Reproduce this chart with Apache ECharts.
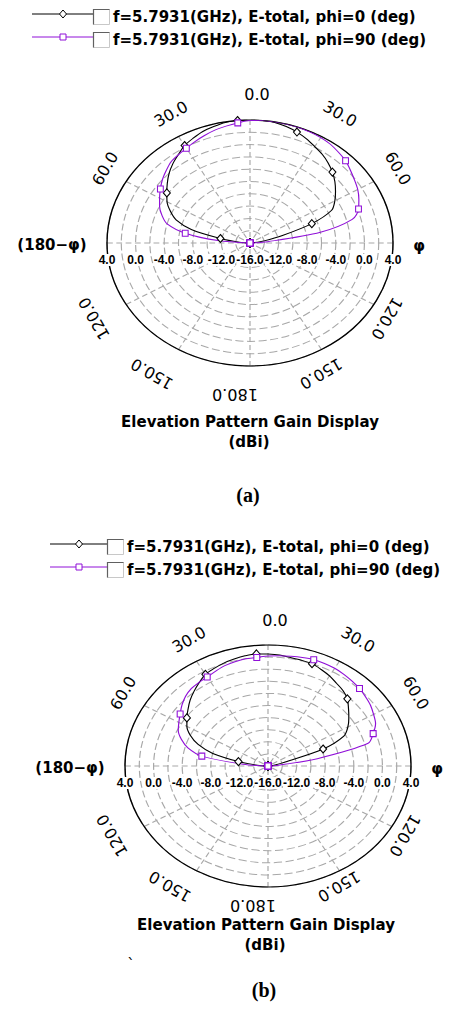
<!DOCTYPE html>
<html><head><meta charset="utf-8">
<script src="https://cdn.jsdelivr.net/npm/echarts@6/dist/echarts.min.js"></script>
<style>
html,body{margin:0;padding:0;background:#fff;width:453px;height:1010px;overflow:hidden}
.polar{position:absolute;z-index:1}
#overlay{position:absolute;left:0;top:0;width:453px;height:1010px;z-index:2;pointer-events:none}
</style></head><body>
<div id="pa" class="polar"></div>
<div id="pb" class="polar"></div>
<div id="overlay"></div>
<script>
// ---------------- data ----------------
const seriesNames = ['f=5.7931(GHz), E-total, phi=0 (deg)', 'f=5.7931(GHz), E-total, phi=90 (deg)'];
const angleDeg = [-180,-175,-170,-165,-160,-155,-150,-145,-140,-135,-130,-125,-120,-115,-110,-105,-100,-95,
  -90,-85,-80,-75,-70,-65,-60,-55,-50,-45,-40,-35,-30,-25,-20,-15,-10,-5,0,
  5,10,15,20,25,30,35,40,45,50,55,60,65,70,75,80,85,90,
  95,100,105,110,115,120,125,130,135,140,145,150,155,160,165,170,175,180];
// (a) gain in dBi
const gainA_phi0 = [-16,-16,-16,-16,-16,-16,-16,-16,-16,-16,-16,-16,-16,-16,-16,-16,-16,-16,
  -16,-14.5,-11.8,-7.5,-5.0,-3.7,-2.6,-1.8,-0.9,0.0,0.8,1.5,2.3,2.8,3.3,3.6,3.9,4.0,4.0,
  4.0,3.9,3.6,3.2,2.7,2.1,1.6,1.0,0.3,-0.5,-1.4,-2.3,-3.4,-6.8,-11.3,-14.0,-15.5,-16,
  -16,-16,-16,-16,-16,-16,-16,-16,-16,-16,-16,-16,-16,-16,-16,-16,-16,-16];
const gainA_phi90 = [-16,-16,-16,-16,-16,-16,-16,-16,-16,-16,-16,-16,-16,-16,-16,-16,-16,-16,
  -16,-11.5,-6.8,-4.0,-2.9,-2.05,-1.4,-0.7,0.0,0.6,1.2,1.5,1.8,2.2,2.6,3.0,3.3,3.6,3.9,
  4.0,4.0,4.0,4.0,3.9,3.8,3.6,3.25,2.9,2.35,1.85,1.4,0.8,0.15,-1.2,-6.0,-13.5,-16,
  -16,-16,-16,-16,-16,-16,-16,-16,-16,-16,-16,-16,-16,-16,-16,-16,-16,-16];
// (b) gain in dBi
const gainB_phi0 = [-16,-16,-16,-16,-16,-16,-16,-16,-16,-16,-16,-16,-16,-16,-16,-16,-16,-16,
  -16,-14.5,-11.8,-8.0,-5.6,-4.0,-2.9,-2.15,-1.4,-0.6,0.1,0.8,1.5,1.8,2.1,2.3,2.5,2.6,2.5,
  2.4,2.2,2.1,2.0,1.6,1.2,0.7,0.3,-0.3,-1.3,-2.2,-3.1,-4.3,-7.8,-13.5,-15.0,-15.7,-16,
  -16,-16,-16,-16,-16,-16,-16,-16,-16,-16,-16,-16,-16,-16,-16,-16,-16,-16];
const gainB_phi90 = [-16,-16,-16,-16,-16,-16,-16,-16,-16,-16,-16,-16,-16,-16,-16,-16,-16,-16,
  -16,-12.5,-6.6,-4.4,-3.1,-2.15,-1.6,-1.0,-0.3,0.3,0.7,0.85,1.0,1.3,1.65,1.85,2.0,2.0,2.2,
  2.3,2.4,2.55,2.7,2.7,2.65,2.5,2.3,2.1,1.8,1.5,1.05,0.6,-0.35,-1.5,-9.0,-14.5,-16,
  -16,-16,-16,-16,-16,-16,-16,-16,-16,-16,-16,-16,-16,-16,-16,-16,-16,-16];
const radialTicks = [4, 0, -4, -8, -12];   // labels on each side, centre label below
const radialCenter = -16;
const radialMax = 4;
const angleTicks = [0, 30, 60, 120, 150, 180];

// ---------------- layout / style ----------------
const COLORS = ['#000000', '#9010d8'];
const SYMBOLS = ['diamond', 'rect'];
const FONT = '"DejaVu Sans", Verdana, sans-serif';
const panels = [
  {id:'pa', cx:250, cy:243, rx:143, ry:123, gains:[gainA_phi0, gainA_phi90],
   lg:{x0:32, mx:63, x1:93, ys:[14,37]}, bTop:149, bBot:151, titleX:250, titleY:422, capY:495, cap:'(a)'},
  {id:'pb', cx:268, cy:766, rx:143, ry:121, gains:[gainB_phi0, gainB_phi90],
   lg:{x0:50, mx:79, x1:107, ys:[544,567]}, bTop:146, bBot:139, titleX:266, titleY:925, capY:990, cap:'(b)'}
];

// ---------------- polar charts (stretched horizontally into an ellipse) ----------------
panels.forEach(p => {
  const S = 2 * p.ry + 20;
  const el = document.getElementById(p.id);
  el.style.width = S + 'px'; el.style.height = S + 'px';
  el.style.left = (p.cx - S / 2) + 'px'; el.style.top = (p.cy - S / 2) + 'px';
  el.style.transformOrigin = '50% 50%';
  el.style.transform = 'scaleX(' + (p.rx / p.ry) + ')';
  const chart = echarts.init(el, null, {renderer: 'svg', width: S, height: S});
  chart.setOption({
    animation: false,
    polar: {center: ['50%', '50%'], radius: p.ry},
    angleAxis: {
      type: 'value', min: -180, max: 180, interval: 30, startAngle: 270, clockwise: true,
      axisLine: {show: true, lineStyle: {color: '#000', width: 1.2}},
      axisTick: {show: false}, axisLabel: {show: false},
      splitLine: {show: true, lineStyle: {color: '#a8a8a8', width: 1, type: [5, 3]}}
    },
    radiusAxis: {
      type: 'value', min: radialCenter, max: radialMax, interval: 2,
      axisLine: {show: false}, axisTick: {show: false}, axisLabel: {show: false},
      splitLine: {show: true, lineStyle: {color: '#a8a8a8', width: 1, type: [7, 3]}}
    },
    series: p.gains.map((g, k) => ({
      type: 'line', coordinateSystem: 'polar', name: seriesNames[k],
      smooth: 0.3, symbol: SYMBOLS[k], symbolSize: k === 0 ? [6, 8] : [5, 6],
      showSymbol: true,
      lineStyle: {color: COLORS[k], width: 1},
      itemStyle: {color: '#fff', borderColor: COLORS[k], borderWidth: 1},
      data: angleDeg.map((t, i) => ({value: [g[i], t], symbol: i % 5 === 0 ? SYMBOLS[k] : 'none'}))
    }))
  });
});

// ---------------- text / legend overlay ----------------
const G = [];
function txt(x, y, s, font, extra) {
  G.push(Object.assign({type: 'text', x: x, y: y, silent: true, z: 10,
    style: Object.assign({text: s, font: font, fill: '#000', align: 'center', verticalAlign: 'middle'}, extra && extra.style || {})},
    extra && extra.el || {}));
}
panels.forEach(p => {
  // legend
  p.lg.ys.forEach((y, k) => {
    G.push({type: 'line', shape: {x1: p.lg.x0, y1: y, x2: p.lg.x1, y2: y}, style: {stroke: COLORS[k], lineWidth: 1}});
    if (k === 0) {
      G.push({type: 'polygon', shape: {points: [[p.lg.mx, y - 4], [p.lg.mx + 3.5, y], [p.lg.mx, y + 4], [p.lg.mx - 3.5, y]]},
        style: {fill: '#fff', stroke: COLORS[k], lineWidth: 1}});
    } else {
      G.push({type: 'rect', shape: {x: p.lg.mx - 3, y: y - 3, width: 6, height: 6},
        style: {fill: '#fff', stroke: COLORS[k], lineWidth: 1}});
    }
    G.push({type: 'rect', shape: {x: p.lg.x1 + 0.5, y: y - 4.5, width: 16, height: 15},
      style: {fill: '#fff', stroke: '#c8c8c8', lineWidth: 1}});
    G.push({type: 'polyline', shape: {points: [[p.lg.x1 + 0.5, y + 10.5], [p.lg.x1 + 0.5, y - 4.5], [p.lg.x1 + 16.5, y - 4.5]]},
      style: {fill: null, stroke: '#606060', lineWidth: 1.2}});
    txt(p.lg.x1 + 20, y + 3, seriesNames[k], 'bold 15px ' + FONT, {style: {align: 'left'}});
  });
  // angle labels (tangential)
  angleTicks.forEach(t => {
    const sides = (t === 0 || t === 180) ? [1] : [1, -1];
    sides.forEach(sd => {
      const th = sd * t * Math.PI / 180;
      const b = Math.cos(th) >= 0 ? p.bTop : p.bBot;
      const x = p.cx + (p.rx + 26) * Math.sin(th) + 11 * Math.cos(th) - 4;
      const y = p.cy - b * Math.cos(th);
      txt(x, y, t.toFixed(1), '16px ' + FONT, {el: {rotation: -th}});
    });
  });
  // radial labels along the horizontal axis
  const ly = p.cy + 17;
  const RF = 'bold 12px "Liberation Sans", Arial, sans-serif';
  radialTicks.forEach(v => {
    const d = (v - radialCenter) / (radialMax - radialCenter) * p.rx;
    [-1, 1].forEach(sd => txt(p.cx + sd * d, ly, v.toFixed(1), RF, {style: {backgroundColor: '#fff'}}));
  });
  txt(p.cx, ly, radialCenter.toFixed(1), RF, {style: {backgroundColor: '#fff'}});
  // side labels
  txt(p.cx - 198, p.cy + 2, '(180\u2212\u03c6)', 'bold 15px ' + FONT);
  txt(p.cx + 169, p.cy + 3, '\u03c6', 'bold 15px ' + FONT);
  // titles
  txt(p.titleX, p.titleY, 'Elevation Pattern Gain Display', 'bold 15px ' + FONT);
  txt(p.titleX - 1, p.titleY + 20, '(dBi)', 'bold 15px ' + FONT);
  txt(p.titleX - 2, p.capY, p.cap, 'bold 20px "Liberation Serif", "Times New Roman", serif');
});
txt(131, 965, '`', '15px ' + FONT);

const ov = echarts.init(document.getElementById('overlay'), null, {renderer: 'svg', width: 453, height: 1010});
ov.setOption({animation: false, graphic: {elements: G}});
</script>
</body></html>
